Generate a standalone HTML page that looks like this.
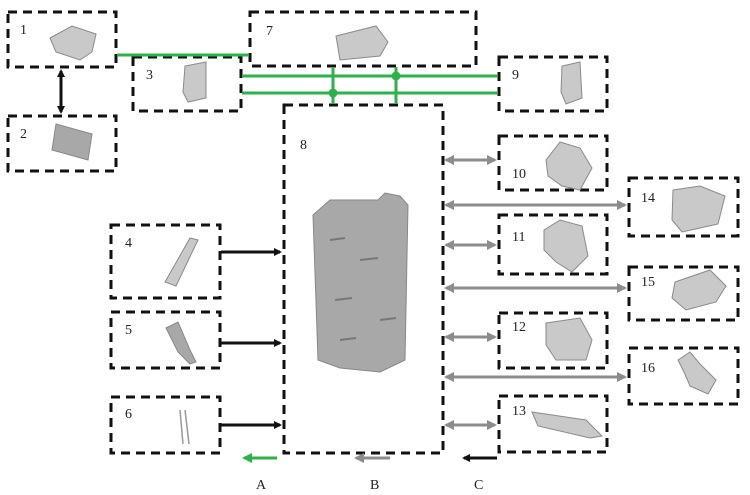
<!DOCTYPE html>
<html><head><meta charset="utf-8"><style>
html,body{margin:0;padding:0;background:#fff;}
svg{display:block}
text{font-family:"Liberation Serif",serif;font-size:14px;fill:#222}
.b{fill:none;stroke:#111;stroke-width:3;stroke-dasharray:9 6}
.p{fill:#a8a8a8;stroke:#888;stroke-width:1}
.q{fill:#c9c9c9;stroke:#8a8a8a;stroke-width:1}
</style></head><body>
<svg width="750" height="495" viewBox="0 0 750 495" xmlns="http://www.w3.org/2000/svg">
<defs>
<marker id="ak" markerWidth="8" markerHeight="8" refX="6" refY="4" orient="auto-start-reverse" markerUnits="userSpaceOnUse"><path d="M0,0 L8,4 L0,8 z" fill="#111"/></marker>
<marker id="ag" markerWidth="10" markerHeight="10" refX="8" refY="5" orient="auto-start-reverse" markerUnits="userSpaceOnUse"><path d="M0,0 L10,5 L0,10 z" fill="#8c8c8c"/></marker>
<marker id="agr" markerWidth="10" markerHeight="10" refX="8" refY="5" orient="auto-start-reverse" markerUnits="userSpaceOnUse"><path d="M0,0 L10,5 L0,10 z" fill="#2db14a"/></marker>
</defs>
<rect class="b" x="8" y="12" width="108" height="55"/>
<rect class="b" x="8" y="116" width="108" height="55"/>
<rect class="b" x="133" y="57" width="108" height="54"/>
<rect class="b" x="250" y="12" width="226" height="54"/>
<rect class="b" x="499" y="57" width="108" height="54"/>
<rect class="b" x="284" y="105" width="159" height="348"/>
<rect class="b" x="499" y="136" width="108" height="54"/>
<rect class="b" x="499" y="215" width="108" height="59"/>
<rect class="b" x="499" y="313" width="108" height="55"/>
<rect class="b" x="499" y="396" width="108" height="56"/>
<rect class="b" x="629" y="178" width="109" height="58"/>
<rect class="b" x="629" y="267" width="109" height="53"/>
<rect class="b" x="629" y="348" width="109" height="56"/>
<rect class="b" x="111" y="225" width="109" height="73"/>
<rect class="b" x="111" y="312" width="109" height="56"/>
<rect class="b" x="111" y="397" width="109" height="56"/>
<text x="20" y="34">1</text><text x="20" y="138">2</text><text x="146" y="79">3</text>
<text x="125" y="247">4</text><text x="125" y="334">5</text><text x="125" y="418">6</text>
<text x="266" y="35">7</text><text x="300" y="149">8</text><text x="512" y="79">9</text>
<text x="512" y="178">10</text><text x="512" y="241">11</text><text x="512" y="331">12</text>
<text x="512" y="415">13</text><text x="641" y="202">14</text><text x="641" y="286">15</text><text x="641" y="372">16</text>
<text x="256" y="489">A</text><text x="370" y="489">B</text><text x="474" y="489">C</text>
<g stroke="#2db14a" stroke-width="3" fill="none">
<line x1="117" y1="55" x2="249" y2="55"/>
<line x1="242" y1="76" x2="498" y2="76"/>
<line x1="242" y1="93" x2="498" y2="93"/>
<line x1="333" y1="67" x2="333" y2="104"/>
<line x1="396" y1="67" x2="396" y2="104"/>
<line x1="277" y1="458" x2="244" y2="458" marker-end="url(#agr)"/>
</g>
<circle cx="396" cy="76" r="4.5" fill="#2db14a"/>
<circle cx="333" cy="93" r="4.5" fill="#2db14a"/>
<g stroke="#111" stroke-width="3">
<line x1="61" y1="71" x2="61" y2="112" marker-start="url(#ak)" marker-end="url(#ak)"/>
<line x1="221" y1="252" x2="280" y2="252" marker-end="url(#ak)"/>
<line x1="221" y1="343" x2="280" y2="343" marker-end="url(#ak)"/>
<line x1="221" y1="425" x2="280" y2="425" marker-end="url(#ak)"/>
<line x1="497" y1="458" x2="464" y2="458" marker-end="url(#ak)"/>
</g>
<g stroke="#8c8c8c" stroke-width="3">
<line x1="446" y1="160" x2="495" y2="160" marker-start="url(#ag)" marker-end="url(#ag)"/>
<line x1="446" y1="245" x2="495" y2="245" marker-start="url(#ag)" marker-end="url(#ag)"/>
<line x1="446" y1="337" x2="495" y2="337" marker-start="url(#ag)" marker-end="url(#ag)"/>
<line x1="446" y1="425" x2="495" y2="425" marker-start="url(#ag)" marker-end="url(#ag)"/>
<line x1="446" y1="205" x2="625" y2="205" marker-start="url(#ag)" marker-end="url(#ag)"/>
<line x1="446" y1="288" x2="625" y2="288" marker-start="url(#ag)" marker-end="url(#ag)"/>
<line x1="446" y1="377" x2="625" y2="377" marker-start="url(#ag)" marker-end="url(#ag)"/>
<line x1="390" y1="458" x2="356" y2="458" marker-end="url(#ag)"/>
</g>
<path class="q" d="M50,38 L72,26 L96,34 L92,52 L80,60 L56,52 z"/>
<path class="p" d="M52,150 L56,124 L92,134 L88,160 z" fill="#9c9c9c"/>
<path class="q" d="M183,92 L185,66 L206,62 L206,98 L188,102 z"/>
<path class="q" d="M336,36 L376,26 L388,42 L380,56 L340,60 z"/>
<path class="q" d="M561,92 L562,66 L580,62 L582,98 L566,104 z"/>
<path class="p" d="M313,215 L330,200 L378,200 L385,193 L400,196 L408,205 L405,360 L380,372 L340,368 L318,360 z" fill="#bdbdbd"/>
<g stroke="#777" stroke-width="2"><line x1="330" y1="240" x2="345" y2="238"/><line x1="360" y1="260" x2="378" y2="258"/><line x1="335" y1="300" x2="352" y2="298"/><line x1="380" y1="320" x2="396" y2="318"/><line x1="340" y1="340" x2="356" y2="338"/></g>
<path class="q" d="M546,160 L560,142 L580,148 L592,168 L580,190 L562,186 L548,176 z"/>
<path class="q" d="M544,230 L560,220 L582,226 L588,256 L572,272 L556,262 L544,250 z"/>
<path class="q" d="M546,323 L580,318 L592,340 L586,360 L556,360 L546,345 z"/>
<path class="q" d="M532,412 L586,420 L602,436 L590,438 L538,426 z"/>
<path class="q" d="M673,190 L700,186 L725,196 L718,224 L700,228 L682,232 L672,220 z"/>
<path class="q" d="M675,282 L710,270 L726,286 L716,302 L686,310 L672,298 z"/>
<path class="q" d="M678,360 L690,352 L700,364 L716,380 L708,394 L690,386 L684,372 z"/>
<path class="q" d="M165,282 L190,238 L198,240 L176,286 z"/>
<path class="p" d="M166,328 L178,322 L190,350 L196,362 L190,364 L178,352 z" fill="#777"/>
<line x1="180" y1="410" x2="183" y2="444" stroke="#999" stroke-width="1.5"/>
<line x1="185" y1="410" x2="189" y2="444" stroke="#999" stroke-width="1.5"/>
</svg>
</body></html>
